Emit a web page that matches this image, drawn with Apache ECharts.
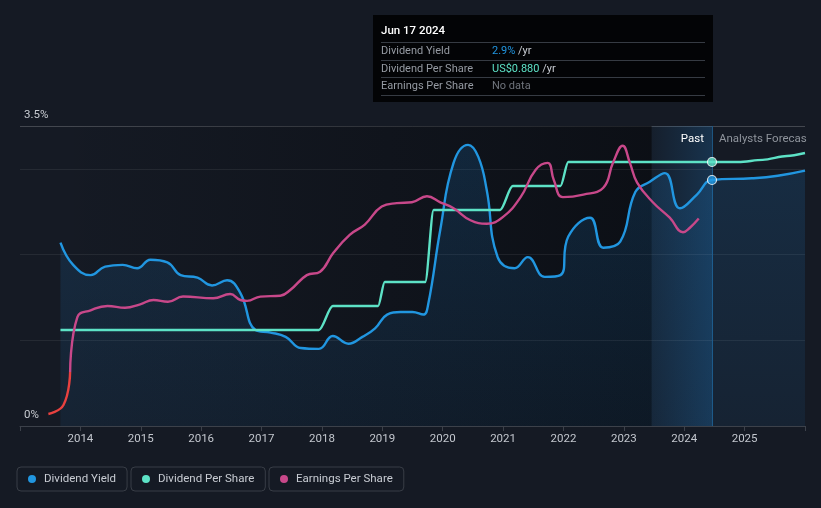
<!DOCTYPE html>
<html>
<head>
<meta charset="utf-8">
<script src="https://cdn.jsdelivr.net/npm/echarts@6.0.0/dist/echarts.min.js"></script>
<style>
html,body{margin:0;padding:0;background:#151a24;}
#c{width:821px;height:508px;}
</style>
</head>
<body>
<div id="c"></div>
<script>
// ---- data (decimal years) ----
const xTickLabels = ['2014','2015','2016','2017','2018','2019','2020','2021','2022','2023','2024','2025'];

const yieldYears  = [2013.67,2013.88,2014.17,2014.41,2014.70,2014.94,2015.16,2015.44,2015.66,2015.94,2016.18,2016.43,2016.65,2016.90,2017.15,2017.40,2017.65,2017.95,2018.18,2018.44,2018.67,2018.88,2019.08,2019.30,2019.50,2019.68,2019.76,2019.96,2020.18,2020.42,2020.59,2020.73,2020.91,2021.19,2021.41,2021.69,2021.95,2022.08,2022.44,2022.66,2022.94,2023.19,2023.43,2023.68,2023.93,2024.21,2024.46,2025.12,2025.55,2026.00];
const yieldValues = [2.14,1.88,1.76,1.86,1.88,1.84,1.94,1.91,1.76,1.73,1.64,1.70,1.55,1.12,1.09,1.04,0.91,0.90,1.05,0.96,1.04,1.14,1.30,1.33,1.33,1.30,1.42,2.29,3.07,3.28,3.14,2.75,1.97,1.84,1.97,1.74,1.76,2.21,2.43,2.08,2.15,2.73,2.85,2.95,2.54,2.70,2.87,2.89,2.92,2.98];

const dpsYears  = [2013.67,2017.95,2018.18,2018.93,2019.04,2019.71,2019.85,2020.95,2021.16,2021.95,2022.08,2024.46,2024.90,2025.30,2025.70,2026.00];
const dpsValues = [0.32,0.32,0.40,0.40,0.48,0.48,0.72,0.72,0.80,0.80,0.88,0.88,0.88,0.887,0.90,0.91];

const epsYears  = [2013.47,2013.72,2013.83,2013.95,2014.17,2014.45,2014.74,2014.99,2015.21,2015.45,2015.70,2016.20,2016.48,2016.65,2016.76,2016.98,2017.31,2017.48,2017.75,2017.97,2018.19,2018.46,2018.71,2018.99,2019.24,2019.49,2019.74,2019.96,2020.18,2020.46,2020.73,2021.00,2021.29,2021.54,2021.74,2021.84,2021.99,2022.33,2022.66,2022.82,2022.98,2023.10,2023.22,2023.48,2023.76,2023.98,2024.09,2024.24];
const epsValues = [0.14,0.245,0.63,1.27,1.35,1.40,1.38,1.42,1.47,1.45,1.51,1.49,1.54,1.47,1.46,1.51,1.52,1.59,1.76,1.80,2.02,2.23,2.35,2.56,2.60,2.61,2.68,2.61,2.54,2.40,2.36,2.44,2.67,2.99,3.07,2.87,2.67,2.70,2.78,3.07,3.27,3.07,2.84,2.61,2.43,2.26,2.31,2.42];
const epsLowCount = 3; // first points drawn in red (low earnings)

const gridValues = [1, 2, 3];
const dataStart = 2013.67, pastYearStart = 2023.46, tipYear = 2024.46, axisEnd = 2026;
const tipDate = 'Jun 17 2024';
const tipYieldValue = 2.87, tipYieldText = '2.9%';
const tipDpsValue = 0.88, tipDpsText = 'US$0.880';
const tipEpsText = 'No data';

const C_YIELD = '#2196e0', C_DPS = '#5de2c6', C_EPS = '#c8488a', C_EPS_NEG = '#e8413f';

const pairs = (xs, ys) => xs.map((x, i) => [x, ys[i]]);
const epsPairs = pairs(epsYears, epsValues);

const chart = echarts.init(document.getElementById('c'));

const row = (label, value, color, suffix, last) =>
  `<div style="display:flex;height:16.5px;line-height:16.5px;border-top:1px solid #363b43;${last?'border-bottom:1px solid #363b43;':''}">` +
  `<span style="width:111px;color:#969ba3">${label}</span>` +
  `<span style="color:${color}">${value}</span>` +
  (suffix ? `<span style="color:#c9cdd3">&nbsp;${suffix}</span>` : '') + `</div>`;

const tipHtml = () =>
  `<div style="width:324px;font-family:Roboto,sans-serif;font-size:11px;">` +
  `<div style="color:#fff;height:24px;line-height:24px;padding-top:3px;font-size:11.5px;font-weight:500">${tipDate}</div>` +
  row('Dividend Yield', tipYieldText, C_YIELD, '/yr') +
  row('Dividend Per Share', tipDpsText, C_DPS, '/yr') +
  row('Earnings Per Share', tipEpsText, '#6f747c', '', true) +
  `</div>`;

const legendBase = {
  top: 467, orient: 'horizontal', icon: 'circle', itemWidth: 8, itemHeight: 8,
  padding: [6, 11, 6, 11], borderColor: '#383d46', borderWidth: 1, borderRadius: 4,
  textStyle: { color: '#c8ccd3', fontSize: 11.5, fontFamily: 'Roboto', padding: [0, 0, 0, 3] }
};

chart.setOption({
  animation: false,
  backgroundColor: '#151a24',
  textStyle: { fontFamily: 'Roboto' },
  grid: { left: 20, right: 16, top: 126, bottom: 82, outerBoundsMode: 'none' },
  tooltip: {
    trigger: 'item', triggerOn: 'none', alwaysShowContent: true,
    position: [373, 15], transitionDuration: 0,
    backgroundColor: '#030406', borderWidth: 0, padding: [0, 8, 6, 8],
    extraCssText: 'box-shadow:none;border-radius:0;',
    formatter: tipHtml
  },
  legend: [
    Object.assign({}, legendBase, { left: 17, data: [{ name: 'Dividend Yield', itemStyle: { color: C_YIELD } }] }),
    Object.assign({}, legendBase, { left: 131, data: [{ name: 'Dividend Per Share', itemStyle: { color: C_DPS } }] }),
    Object.assign({}, legendBase, { left: 269, data: [{ name: 'Earnings Per Share', itemStyle: { color: C_EPS } }] })
  ],
  xAxis: {
    type: 'value', min: 2013, max: 2026, interval: 1,
    axisLine: { lineStyle: { color: '#3c414a' } },
    axisTick: { show: true, length: 5, lineStyle: { color: '#3c414a' } },
    splitLine: { show: false },
    axisLabel: {
      color: '#c3c7ce', fontSize: 11.5, margin: 7,
      formatter: v => xTickLabels.includes(String(v)) ? String(v) : ''
    }
  },
  yAxis: [
    {
      type: 'value', min: 0, max: 3.5, interval: 3.5,
      axisLine: { show: false }, axisTick: { show: false },
      splitLine: { show: true, lineStyle: { color: 'rgba(255,255,255,0.2)' } },
      axisLabel: {
        inside: true, margin: 4, color: '#c8ccd2', fontSize: 11.5,
        verticalAlign: 'bottom', padding: [0, 0, 5, 0],
        formatter: v => v + '%'
      }
    },
    { type: 'value', min: 0, max: 1, show: false },
    { type: 'value', min: 0, max: 3.5, show: false }
  ],
  series: [
    {
      name: 'bg', type: 'line', data: pairs(yieldYears, yieldValues), silent: true,
      symbol: 'none', lineStyle: { width: 0, opacity: 0 }, z: 1, tooltip: { show: false },
      markArea: {
        silent: true, z: 0,
        data: [
          [{ xAxis: dataStart, itemStyle: { color: new echarts.graphic.LinearGradient(0, 0, 1, 0, [
              { offset: 0, color: 'rgba(6,8,12,0)' }, { offset: 1, color: 'rgba(6,8,12,0.6)' }]) } },
           { xAxis: pastYearStart }],
          [{ xAxis: pastYearStart, itemStyle: { color: new echarts.graphic.LinearGradient(0, 0, 1, 0, [
              { offset: 0, color: 'rgba(33,150,243,0.04)' }, { offset: 1, color: 'rgba(33,150,243,0.2)' }]) },
             label: { show: true, position: 'insideTopRight', formatter: 'Past', color: '#ffffff', fontSize: 11.5, offset: [-3, 2] } },
           { xAxis: tipYear }],
          [{ xAxis: tipYear, itemStyle: { color: 'rgba(0,0,0,0)' },
             label: { show: true, position: 'insideTopLeft', formatter: 'Analysts Forecasts', color: '#8f949c', fontSize: 11.5,
                      offset: [2, 2], width: 93, overflow: 'truncate', ellipsis: '' } },
           { xAxis: axisEnd }]
        ]
      },
      markLine: {
        silent: true, symbol: 'none', label: { show: false }, z: 1,
        data: gridValues.map(v => ({ yAxis: v, lineStyle: { color: 'rgba(255,255,255,0.07)', width: 1, type: 'solid' } }))
          .concat([{ xAxis: tipYear, lineStyle: { color: '#1d5580', width: 1, type: 'solid' } }])
      }
    },
    {
      name: 'Dividend Yield', type: 'line', data: pairs(yieldYears, yieldValues), yAxisIndex: 0,
      smooth: 0.45, symbol: 'none', z: 3,
      lineStyle: { color: C_YIELD, width: 2.4 }, itemStyle: { color: C_YIELD },
      areaStyle: { color: new echarts.graphic.LinearGradient(0, 0, 0, 1, [
        { offset: 0, color: 'rgba(33,150,243,0.22)' }, { offset: 1, color: 'rgba(33,150,243,0.1)' }]) },
      tooltip: { show: false }
    },
    {
      name: 'Dividend Per Share', type: 'line', data: pairs(dpsYears, dpsValues), yAxisIndex: 1,
      smooth: 0.3, smoothMonotone: 'x', symbol: 'none', z: 4,
      lineStyle: { color: C_DPS, width: 2.4 }, itemStyle: { color: C_DPS },
      tooltip: { show: false }
    },
    {
      name: 'Earnings Per Share (low)', type: 'line', data: epsPairs.slice(0, epsLowCount), yAxisIndex: 2,
      smooth: 0.45, symbol: 'none', z: 5,
      lineStyle: { color: C_EPS_NEG, width: 2.4 }, itemStyle: { color: C_EPS_NEG },
      tooltip: { show: false }
    },
    {
      name: 'Earnings Per Share', type: 'line', data: epsPairs.slice(epsLowCount - 1), yAxisIndex: 2,
      smooth: 0.45, symbol: 'none', z: 5,
      lineStyle: { color: C_EPS, width: 2.4 }, itemStyle: { color: C_EPS },
      tooltip: { show: false }
    },
    {
      name: 'tipYield', type: 'scatter', yAxisIndex: 0, data: [[tipYear, tipYieldValue]],
      symbolSize: 9, z: 10, itemStyle: { color: C_YIELD, borderColor: '#ffffff', borderWidth: 1.2 }
    },
    {
      name: 'tipDps', type: 'scatter', yAxisIndex: 1, data: [[tipYear, tipDpsValue]],
      symbolSize: 9, z: 10, itemStyle: { color: C_DPS, borderColor: '#ffffff', borderWidth: 1.2 }
    }
  ]
});

chart.dispatchAction({ type: 'showTip', seriesIndex: 5, dataIndex: 0 });
</script>
</body>
</html>
